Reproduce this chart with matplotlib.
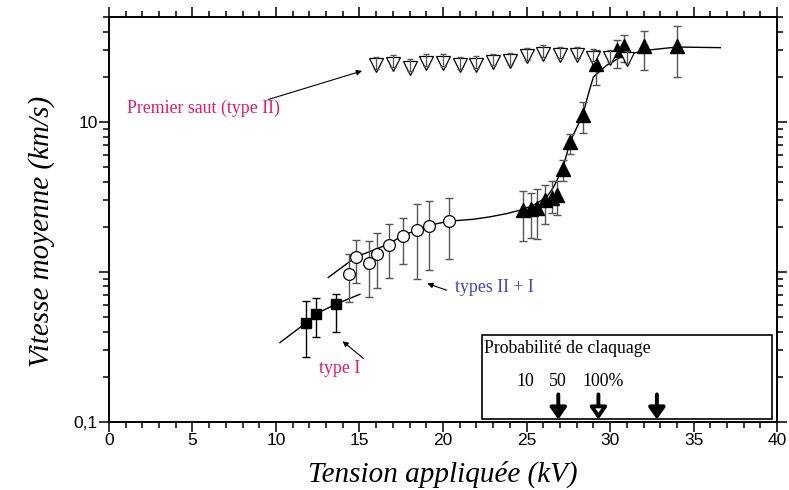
"""Vitesse moyenne des streamers en fonction de la tension appliquée"""

import matplotlib.pyplot as plt
from matplotlib.patches import Rectangle
from matplotlib.ticker import FixedLocator, FixedFormatter, LogLocator, NullFormatter, MultipleLocator
import matplotlib.transforms as mtransforms

# type I (carres pleins)
type1_kv = [11.8, 12.4, 13.6]
type1_v = [0.457, 0.522, 0.615]
type1_hi = [0.64, 0.67, 0.71]
type1_lo = [0.27, 0.37, 0.40]

# types II + I (cercles ouverts)
mixte_kv = [14.39, 14.79, 15.59, 16.03, 16.78, 17.62, 18.43, 19.18, 20.38]
mixte_v = [0.975, 1.259, 1.148, 1.326, 1.506, 1.738, 1.897, 2.03, 2.18]
mixte_hi = [1.326, 1.644, 1.61, 1.82, 2.10, 2.30, 2.83, 2.97, 3.13]
mixte_lo = [0.631, 0.845, 0.681, 0.787, 0.918, 1.125, 0.894, 1.026, 1.216]

# type II, regime rapide (triangles pleins)
rapide_kv = [24.79, 25.25, 25.65, 26.11, 26.51, 26.84, 27.17, 27.60, 28.37,
             29.16, 30.40, 30.84, 32.0, 34.03]
rapide_v = [2.58, 2.61, 2.65, 3.0, 3.13, 3.28, 4.89, 7.36, 11.2,
            24.5, 30.1, 32.0, 32.0, 32.3]
rapide_hi = [3.45, 3.38, 3.56, 3.82, 4.03, 4.03, 5.56, 8.37, 13.6,
             30.1, 35.1, 38.3, 40.3, 43.5]
rapide_lo = [1.60, 1.69, 1.67, 2.10, 2.47, 2.39, 4.04, 6.09, 8.45,
             17.7, 22.9, 25.1, 22.1, 19.8]

# premier saut (type II), triangles ouverts
saut_kv = [16, 17, 18, 19, 20, 21, 22, 23, 24, 25, 26, 27, 28, 29, 30, 31]
saut_v = [23.9, 24.5, 22.9, 24.7, 24.7, 23.9, 24.1, 25.1, 25.4, 27.4,
          28.6, 27.9, 27.9, 26.9, 26.5, 26.1]
saut_hi = [27.2, 27.9, 26.1, 28.2, 28.2, 27.2, 27.5, 28.6, 29.0, 31.2,
           32.6, 31.8, 31.8, 30.7, 30.2, 29.8]
saut_lo = [22.7, 23.3, 21.8, 23.5, 23.5, 22.7, 22.9, 23.8, 24.1, 26.0,
           27.2, 26.5, 26.5, 25.6, 25.2, 24.8]

# courbes d'ajustement
fit1_kv = [10.24, 11.80, 12.63, 13.59, 15.03]
fit1_v = [0.338, 0.457, 0.541, 0.610, 0.710]
fit2_kv = [13.13, 14.79, 15.93, 16.78, 17.62, 18.43, 19.18, 20.38, 21.81,
           22.81, 23.82, 24.61, 25.41, 26.21, 26.6, 27.17, 27.6, 28.37,
           28.68, 29.0, 29.8, 30.8, 32.2, 34.0, 36.6]
fit2_v = [0.918, 1.259, 1.41, 1.545, 1.757, 1.897, 2.05, 2.18, 2.245,
          2.33, 2.45, 2.58, 2.78, 3.16, 3.65, 4.89, 7.36, 11.2,
          15.1, 19.95, 23.9, 27.8, 30.1, 31.6, 31.3]

# probabilite de claquage 10 / 50 / 100 %
claquage_kv = [26.9, 29.3, 32.8]
claquage_txt = ['10', '50', '100%']

PINK = '#e6176b'
BLUE = '#3f3fd0'
BAR = '#555555'
SERIF = 'Liberation Serif'


def errs(v, lo, hi):
    return [[a - b for a, b in zip(v, lo)], [b - a for a, b in zip(v, hi)]]


def main():
    plt.rcParams['font.family'] = ['Liberation Sans', 'DejaVu Sans']
    fig = plt.figure(figsize=(7.89, 4.90), dpi=100)
    ax = fig.add_axes([0.138, 0.139, 0.847, 0.826])

    ax.set_yscale('log')
    ax.set_xlim(0, 40)
    ax.set_ylim(0.1, 50)

    # courbes
    ax.plot(fit1_kv, fit1_v, color='black', lw=1.0, zorder=2)
    ax.plot(fit2_kv, fit2_v, color='black', lw=1.0, zorder=2)

    # type I
    ax.errorbar(type1_kv, type1_v, yerr=errs(type1_v, type1_lo, type1_hi),
                fmt='none', ecolor='black', elinewidth=1, capsize=3, zorder=3)
    ax.plot(type1_kv, type1_v, 's', ms=7.5, color='black', zorder=4)

    # types II + I
    ax.errorbar(mixte_kv, mixte_v, yerr=errs(mixte_v, mixte_lo, mixte_hi),
                fmt='none', ecolor=BAR, elinewidth=1, capsize=3, zorder=3)
    ax.plot(mixte_kv, mixte_v, 'o', ms=8.5, mfc='white', mec='black',
            mew=0.9, zorder=4)

    # type II rapide
    ax.errorbar(rapide_kv, rapide_v, yerr=errs(rapide_v, rapide_lo, rapide_hi),
                fmt='none', ecolor=BAR, elinewidth=1, capsize=3, zorder=3)
    ax.plot(rapide_kv, rapide_v, '^', ms=10.5, color='black', zorder=4)

    # premier saut
    ax.plot(saut_kv, saut_v, 'v', ms=10.5, mfc='white', mec='black',
            mew=0.9, zorder=4)
    ax.errorbar(saut_kv, saut_v, yerr=errs(saut_v, saut_lo, saut_hi),
                fmt='none', ecolor=BAR, elinewidth=0.9, capsize=2.5, zorder=5)

    # annotations
    arrow = dict(arrowstyle='-|>', color='black', lw=0.8, mutation_scale=8,
                 shrinkA=0, shrinkB=0)
    ax.annotate('', xy=(15.15, 21.9), xytext=(9.53, 14.1), arrowprops=arrow)
    ax.text(1.08, 12.3, 'Premier saut (type II)', color=PINK, fontsize=12.8,
            family=SERIF, va='center', ha='left')
    ax.annotate('', xy=(19.06, 0.838), xytext=(20.22, 0.755), arrowprops=arrow)
    ax.text(20.72, 0.79, 'types II + I', color=BLUE, fontsize=12.8,
            family=SERIF, va='center', ha='left')
    ax.annotate('', xy=(13.99, 0.345), xytext=(15.23, 0.265), arrowprops=arrow)
    ax.text(12.57, 0.228, 'type I', color=PINK, fontsize=12.8,
            family=SERIF, va='center', ha='left')

    # encadre probabilite de claquage
    ax.add_patch(Rectangle((0.558, 0.0067), 0.434, 0.2076, transform=ax.transAxes,
                           fill=False, edgecolor='black', lw=1.2, zorder=6))
    ax.text(0.561, 0.182, 'Probabilité de claquage', transform=ax.transAxes,
            fontsize=12.8, family=SERIF, va='center', ha='left')
    for xf, txt in zip([0.6093, 0.6587, 0.708], claquage_txt):
        ax.text(xf, 0.1, txt, transform=ax.transAxes,
                fontsize=12.8, family=SERIF, va='center', ha='left')
    trans = mtransforms.blended_transform_factory(ax.transData, ax.transAxes)
    for i, kv in enumerate(claquage_kv):
        face = 'white' if i == 1 else 'black'
        ax.annotate('', xy=(kv, 0.006), xytext=(kv, 0.068),
                    xycoords=trans, textcoords=trans,
                    arrowprops=dict(arrowstyle='-|>,head_length=0.5,head_width=0.35',
                                    lw=2.8, facecolor=face, edgecolor='black',
                                    mutation_scale=14, shrinkA=0, shrinkB=0),
                    zorder=7)

    # axes
    ax.xaxis.set_major_locator(MultipleLocator(5))
    ax.xaxis.set_minor_locator(MultipleLocator(1))
    ax.yaxis.set_major_locator(FixedLocator([0.1, 1, 10]))
    ax.yaxis.set_major_formatter(FixedFormatter(['0,1', '', '10']))
    ax.yaxis.set_minor_locator(LogLocator(base=10, subs=range(2, 10)))
    ax.yaxis.set_minor_formatter(NullFormatter())
    ax.tick_params(which='both', direction='out', top=True, right=True,
                   width=1.1, labelsize=12.5)
    ax.tick_params(which='major', length=7, pad=1)
    ax.tick_params(which='minor', length=4)
    for s in ax.spines.values():
        s.set_linewidth(1.4)

    # titres des axes
    fig.text(0.5615, 0.016, 'Tension appliquée (kV)', family=SERIF,
             style='italic', fontsize=21, ha='center', va='baseline')
    fig.text(0.053, 0.528, 'Vitesse moyenne (km/s)', family=SERIF,
             style='italic', fontsize=21, ha='center', va='center', rotation=90)

    fig.savefig('out.png', dpi=100)
    plt.close(fig)


if __name__ == "__main__":
    main()
